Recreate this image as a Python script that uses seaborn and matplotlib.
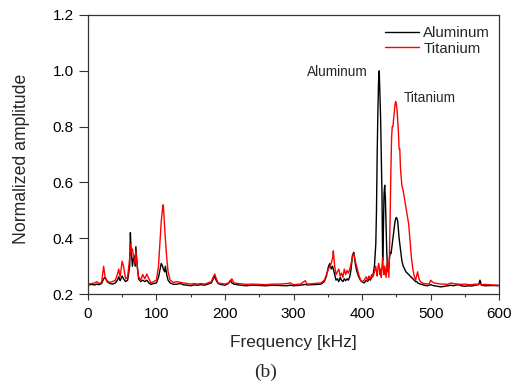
import matplotlib
matplotlib.use("Agg")
import matplotlib.pyplot as plt
import seaborn as sns
import pandas as pd
from matplotlib.ticker import MultipleLocator, FormatStrFormatter

freq = [0, 5, 10, 13, 16, 20, 23, 25, 28, 32, 36, 40, 43, 45, 47, 50, 52, 55, 58, 61,
        62, 63, 65, 67, 69, 70, 72, 74, 77, 80, 83, 86, 89, 92, 96, 100, 103, 105, 107, 109,
        110, 112, 113, 115, 117, 120, 125, 130, 135, 140, 145, 150, 155, 160, 165, 170, 175, 180, 183, 185,
        187, 190, 195, 200, 205, 208, 210, 213, 220, 230, 240, 250, 260, 270, 280, 290, 295, 300, 310, 317,
        320, 330, 340, 345, 348, 351, 353, 355, 357, 358, 360, 362, 364, 366, 368, 370, 372, 374, 376, 378,
        380, 382, 384, 386, 388, 390, 392, 395, 398, 400, 403, 406, 408, 410, 412, 414, 416, 418, 420, 421,
        422, 423, 424, 425, 426, 427, 428, 429, 430, 431, 432, 433, 434, 435, 436, 437, 438, 439, 440, 441,
        442, 443, 444, 445, 446, 447, 448, 449, 450, 451, 452, 453, 454, 455, 456, 458, 460, 462, 464, 466,
        468, 470, 472, 474, 476, 478, 480, 481, 483, 485, 488, 490, 495, 498, 500, 502, 505, 510, 515, 520,
        525, 530, 533, 540, 545, 550, 555, 560, 565, 570, 572, 574, 580, 590, 600]

aluminum = [0.232, 0.235, 0.233, 0.236, 0.234, 0.238, 0.255, 0.260, 0.245, 0.238, 0.236, 0.240, 0.250, 0.262, 0.248, 0.265, 0.255, 0.245, 0.250, 0.300,
            0.420, 0.360, 0.300, 0.340, 0.300, 0.370, 0.300, 0.255, 0.245, 0.250, 0.245, 0.250, 0.240, 0.235, 0.238, 0.240, 0.260, 0.285, 0.310, 0.300,
            0.290, 0.280, 0.300, 0.270, 0.250, 0.240, 0.235, 0.236, 0.238, 0.233, 0.232, 0.230, 0.233, 0.232, 0.234, 0.232, 0.236, 0.240, 0.255, 0.265,
            0.250, 0.238, 0.234, 0.232, 0.238, 0.250, 0.240, 0.236, 0.233, 0.230, 0.232, 0.231, 0.230, 0.232, 0.231, 0.230, 0.232, 0.230, 0.232, 0.235,
            0.233, 0.234, 0.236, 0.245, 0.265, 0.300, 0.310, 0.290, 0.300, 0.290, 0.270, 0.250, 0.255, 0.245, 0.260, 0.250, 0.245, 0.255, 0.248, 0.255,
            0.250, 0.262, 0.290, 0.340, 0.350, 0.310, 0.285, 0.262, 0.248, 0.244, 0.240, 0.250, 0.245, 0.255, 0.250, 0.260, 0.270, 0.300, 0.380, 0.500,
            0.700, 0.850, 0.960, 1.000, 0.920, 0.830, 0.700, 0.560, 0.320, 0.420, 0.560, 0.590, 0.540, 0.440, 0.350, 0.300, 0.280, 0.300, 0.330, 0.350,
            0.345, 0.360, 0.380, 0.400, 0.420, 0.440, 0.460, 0.470, 0.475, 0.470, 0.460, 0.430, 0.400, 0.380, 0.360, 0.320, 0.300, 0.290, 0.280, 0.275,
            0.270, 0.265, 0.260, 0.255, 0.250, 0.245, 0.245, 0.240, 0.238, 0.236, 0.234, 0.232, 0.230, 0.232, 0.234, 0.232, 0.230, 0.228, 0.226, 0.228,
            0.230, 0.232, 0.230, 0.234, 0.230, 0.228, 0.230, 0.229, 0.232, 0.234, 0.250, 0.232, 0.230, 0.231, 0.230]

titanium = [0.235, 0.238, 0.240, 0.245, 0.238, 0.242, 0.300, 0.262, 0.248, 0.242, 0.245, 0.250, 0.270, 0.290, 0.262, 0.318, 0.300, 0.255, 0.262, 0.330,
            0.380, 0.350, 0.362, 0.330, 0.310, 0.355, 0.300, 0.262, 0.250, 0.270, 0.255, 0.272, 0.255, 0.240, 0.245, 0.250, 0.300, 0.380, 0.460, 0.510,
            0.520, 0.440, 0.400, 0.330, 0.280, 0.250, 0.242, 0.245, 0.242, 0.240, 0.238, 0.236, 0.238, 0.236, 0.238, 0.236, 0.240, 0.245, 0.262, 0.272,
            0.258, 0.240, 0.238, 0.236, 0.240, 0.245, 0.255, 0.240, 0.238, 0.235, 0.236, 0.235, 0.234, 0.236, 0.236, 0.238, 0.240, 0.234, 0.236, 0.248,
            0.236, 0.238, 0.240, 0.250, 0.270, 0.290, 0.300, 0.310, 0.330, 0.355, 0.300, 0.270, 0.280, 0.290, 0.265, 0.275, 0.260, 0.290, 0.270, 0.285,
            0.275, 0.290, 0.310, 0.335, 0.345, 0.320, 0.300, 0.270, 0.250, 0.245, 0.250, 0.262, 0.250, 0.265, 0.255, 0.270, 0.262, 0.280, 0.300, 0.280,
            0.265, 0.290, 0.310, 0.300, 0.270, 0.290, 0.260, 0.300, 0.330, 0.290, 0.270, 0.300, 0.280, 0.260, 0.300, 0.320, 0.290, 0.260, 0.350, 0.500,
            0.640, 0.760, 0.800, 0.800, 0.830, 0.850, 0.880, 0.890, 0.880, 0.860, 0.820, 0.780, 0.720, 0.720, 0.650, 0.590, 0.570, 0.540, 0.510, 0.480,
            0.450, 0.390, 0.330, 0.290, 0.265, 0.250, 0.270, 0.280, 0.255, 0.245, 0.240, 0.238, 0.236, 0.238, 0.250, 0.245, 0.240, 0.238, 0.236, 0.236,
            0.235, 0.240, 0.238, 0.236, 0.235, 0.236, 0.234, 0.234, 0.236, 0.235, 0.236, 0.234, 0.235, 0.233, 0.232]

series_names = ["Aluminum", "Titanium"]
series_colors = ["black", "#ff0000"]

df = pd.concat([
    pd.DataFrame({"Frequency": freq, "Amplitude": aluminum, "Material": series_names[0]}),
    pd.DataFrame({"Frequency": freq, "Amplitude": titanium, "Material": series_names[1]}),
])

sns.set_style("ticks")
plt.rcParams['font.family'] = ['Liberation Sans', 'DejaVu Sans']

fig = plt.figure(figsize=(5.2, 3.84), dpi=100)
ax = fig.add_axes([0.169, 0.234, 0.791, 0.727])

sns.lineplot(data=df, x="Frequency", y="Amplitude", hue="Material",
             palette=dict(zip(series_names, series_colors)), linewidth=1.0,
             estimator=None, sort=False, ax=ax)

ax.set_xlim(0, 600)
ax.set_ylim(0.2, 1.2)
ax.set_xticks([0, 100, 200, 300, 400, 500, 600])
ax.xaxis.set_minor_locator(MultipleLocator(50))
ax.set_yticks([0.2, 0.4, 0.6, 0.8, 1.0, 1.2])
ax.yaxis.set_major_formatter(FormatStrFormatter('%.1f'))
ax.tick_params(axis='x', which='major', direction='out', length=4, width=0.8,
               pad=5, labelsize=11, colors='#333333', labelcolor='black')
ax.tick_params(axis='y', which='major', direction='out', length=6.5, width=0.8,
               pad=3.5, labelsize=11, colors='#333333', labelcolor='black')
ax.tick_params(axis='x', which='minor', direction='out', length=2.5, width=0.8, colors='#333333')
for s in ax.spines.values():
    s.set_visible(True)
    s.set_linewidth(0.9)
    s.set_color('#333333')

ax.set_xlabel("Frequency [kHz]", fontsize=12.5, labelpad=10)
ax.set_ylabel("Normalized amplitude", fontsize=12.7)
ax.yaxis.set_label_coords(-0.14, 0.484)

leg = ax.legend(loc='upper right', bbox_to_anchor=(1.0, 0.992), frameon=False,
                fontsize=10.8, handlelength=2.3, handletextpad=0.27,
                borderaxespad=0.2, labelspacing=0.1)

ax.text(364, 0.996, "Aluminum", fontsize=9.8, ha='center', va='center')
ax.text(499, 0.903, "Titanium", fontsize=9.8, ha='center', va='center')

fig.text(0.51, 0.031, "(b)", fontsize=14, family=['Liberation Serif', 'DejaVu Serif'],
         ha='center', va='center')

fig.savefig("out.png", dpi=100)
